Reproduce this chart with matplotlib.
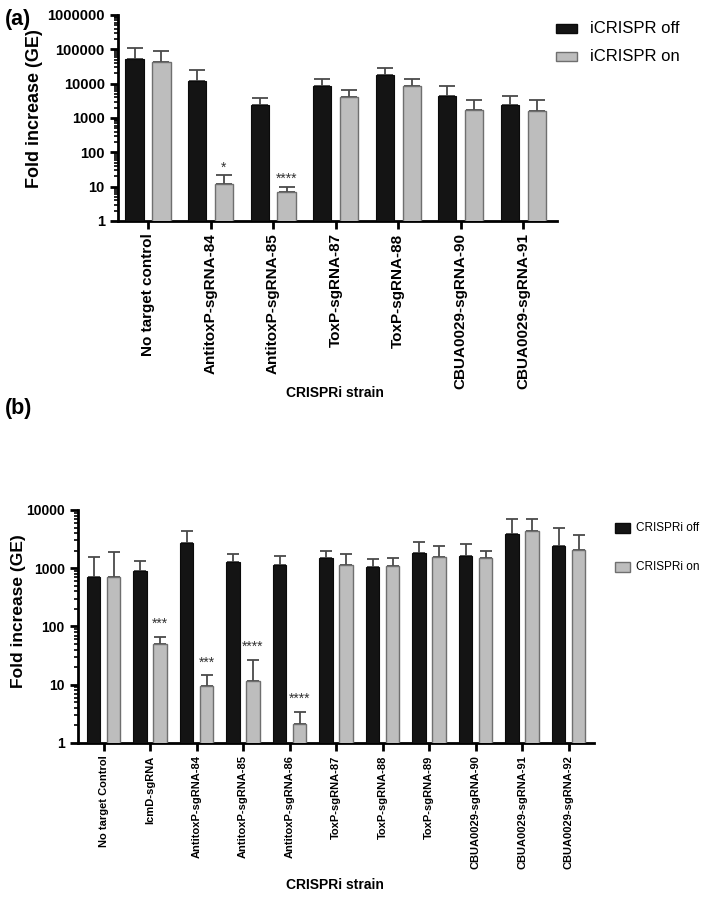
import numpy as np
import matplotlib
matplotlib.use("Agg")
import matplotlib.pyplot as plt
from matplotlib.ticker import LogLocator, NullFormatter
from matplotlib.patches import Rectangle

plt.rcParams['font.family'] = ['Liberation Sans', 'DejaVu Sans']

# ---- panel (a) data
cats_a = ["No target control", "AntitoxP-sgRNA-84", "AntitoxP-sgRNA-85",
          "ToxP-sgRNA-87", "ToxP-sgRNA-88", "CBUA0029-sgRNA-90", "CBUA0029-sgRNA-91"]
off_a = [51000, 11700, 2400, 8500, 17700, 4400, 2400]
off_a_sd = [56000, 12800, 1400, 5000, 10300, 4100, 1950]
on_a = [42000, 12.3, 6.8, 4100, 8600, 1700, 1600]
on_a_sd = [46000, 9.7, 3.2, 2400, 4900, 1600, 1700]
stars_a = ["", "*", "****", "", "", "", ""]
ticks_a = [1, 10, 100, 1000, 10000, 100000, 1000000]
legend_a = ["iCRISPR off", "iCRISPR on"]

# ---- panel (b) data
cats_b = ["No target Control", "IcmD-sgRNA", "AntitoxP-sgRNA-84", "AntitoxP-sgRNA-85",
          "AntitoxP-sgRNA-86", "ToxP-sgRNA-87", "ToxP-sgRNA-88", "ToxP-sgRNA-89",
          "CBUA0029-sgRNA-90", "CBUA0029-sgRNA-91", "CBUA0029-sgRNA-92"]
off_b = [700, 900, 2700, 1270, 1140, 1480, 1060, 1810, 1630, 3930, 2400]
off_b_sd = [860, 430, 1600, 460, 470, 520, 370, 990, 960, 2970, 2600]
on_b = [700, 50, 9.4, 11.5, 2.1, 1140, 1110, 1560, 1490, 4420, 2070]
on_b_sd = [1200, 16, 5.1, 15.5, 1.3, 590, 410, 840, 510, 2480, 1690]
stars_b = ["", "***", "***", "****", "****", "", "", "", "", "", ""]
ticks_b = [1, 10, 100, 1000, 10000]
legend_b = ["CRISPRi off", "CRISPRi on"]

BLACK = "#141414"
GREY = "#bdbdbd"
GREY_EDGE = "#6f6f6f"
ERR = "#4a4a4a"


def draw_panel(ax, cats, off, off_sd, on, on_sd, stars, ticks, tick_fs, cap, star_fs):
    x = np.arange(len(cats))
    w = 0.29
    d = 0.215
    ax.bar(x - d, off, w, color=BLACK, edgecolor="#0a0a0a", linewidth=0.8, zorder=3)
    ax.bar(x + d, on, w, color=GREY, edgecolor=GREY_EDGE, linewidth=1.0, zorder=3)
    zeros = np.zeros(len(cats))
    ax.errorbar(x - d, off, yerr=[zeros, off_sd], fmt="none", ecolor=ERR,
                elinewidth=1.3, capsize=cap, capthick=1.3, zorder=2)
    ax.errorbar(x + d, on, yerr=[zeros, on_sd], fmt="none", ecolor=ERR,
                elinewidth=1.3, capsize=cap, capthick=1.3, zorder=2)
    for i, s in enumerate(stars):
        if s:
            top = on[i] + on_sd[i]
            ax.text(x[i] + d, top * 10 ** 0.22, s, ha="center", va="center",
                    fontsize=star_fs, color="#333333")
    ax.set_yscale("log")
    ax.set_ylim(ticks[0], ticks[-1])
    ax.set_yticks(ticks)
    ax.set_yticklabels([str(t) for t in ticks], fontweight="bold")
    ax.yaxis.set_minor_locator(LogLocator(base=10, subs=np.arange(2, 10)))
    ax.yaxis.set_minor_formatter(NullFormatter())
    ax.set_xticks(x)
    ax.set_xticklabels(cats, rotation=90, fontweight="bold", fontsize=tick_fs)
    for sp in ["top", "right"]:
        ax.spines[sp].set_visible(False)
    for sp in ["left", "bottom"]:
        ax.spines[sp].set_linewidth(2)
    ax.tick_params(axis="both", which="major", length=6, width=2, direction="out")
    ax.tick_params(axis="y", which="minor", length=3, width=1.2)
    ax.tick_params(axis="x", pad=3)


fig = plt.figure(figsize=(7.09, 9.02), dpi=100)

# ---- (a)
ax1 = fig.add_axes([0.1664, 0.755, 0.6192, 0.2284])
draw_panel(ax1, cats_a, off_a, off_a_sd, on_a, on_a_sd, stars_a, ticks_a, 11, 6, 10)
ax1.set_xlim(-0.48, len(cats_a) - 0.46)
ax1.tick_params(axis="y", labelsize=10.5)
fig.text(0.049, 0.880, "Fold increase (GE)", rotation=90, ha="center", va="center",
         fontsize=13, fontweight="bold")
fig.text(0.472, 0.564, "CRISPRi strain", ha="center", va="center",
         fontsize=10, fontweight="bold")
fig.text(0.007, 0.978, "(a)", ha="left", va="center", fontsize=15.5, fontweight="bold")
for k, (lab, fc, ec) in enumerate(zip(legend_a, [BLACK, GREY], ["#0a0a0a", GREY_EDGE])):
    yc = 0.968 - k * 0.031
    fig.patches.append(Rectangle((0.784, yc - 0.005), 0.030, 0.010, facecolor=fc,
                                 edgecolor=ec, linewidth=1, transform=fig.transFigure))
    fig.text(0.832, yc, lab, ha="left", va="center", fontsize=12)

# ---- (b)
ax2 = fig.add_axes([0.110, 0.1763, 0.728, 0.2583])
draw_panel(ax2, cats_b, off_b, off_b_sd, on_b, on_b_sd, stars_b, ticks_b, 8, 4, 10)
ax2.set_xlim(-0.55, len(cats_b) - 0.45)
ax2.tick_params(axis="y", labelsize=10)
fig.text(0.026, 0.322, "Fold increase (GE)", rotation=90, ha="center", va="center",
         fontsize=12.5, fontweight="bold")
fig.text(0.472, 0.019, "CRISPRi strain", ha="center", va="center",
         fontsize=10, fontweight="bold")
fig.text(0.007, 0.547, "(b)", ha="left", va="center", fontsize=15.5, fontweight="bold")
for k, (lab, fc, ec) in enumerate(zip(legend_b, [BLACK, GREY], ["#0a0a0a", GREY_EDGE])):
    yc = 0.415 - k * 0.044
    fig.patches.append(Rectangle((0.868, yc - 0.0055), 0.021, 0.011, facecolor=fc,
                                 edgecolor=ec, linewidth=1, transform=fig.transFigure))
    fig.text(0.897, yc, lab, ha="left", va="center", fontsize=8.5)

fig.savefig("out.png", dpi=100)
